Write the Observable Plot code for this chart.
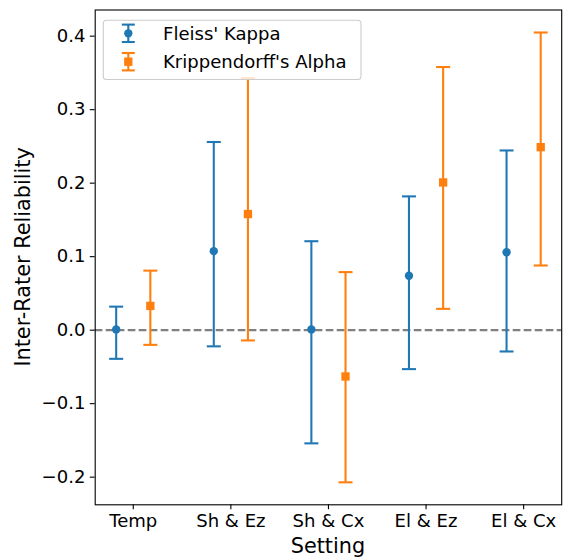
<!DOCTYPE html>
<html>
<head>
<meta charset="utf-8">
<script src="https://cdn.jsdelivr.net/npm/d3@7"></script>
<script src="https://cdn.jsdelivr.net/npm/@observablehq/plot@0.6"></script>
<style>
  html, body { margin: 0; padding: 0; background: #fff; }
  svg { font-family: "DejaVu Sans", sans-serif; }
</style>
</head>
<body>
<div id="chart"></div>
<script>
const categories = ["Temp", "Sh & Ez", "Sh & Cx", "El & Ez", "El & Cx"];
const seriesNames = ["Fleiss' Kappa", "Krippendorff's Alpha"];
const seriesColors = ["#1f77b4", "#ff7f0e"];

const fleiss   = [0.001, 0.1075, 0.001, 0.074, 0.106];
const fleissLo = [-0.039, -0.022, -0.154, -0.053, -0.029];
const fleissHi = [0.032, 0.256, 0.121, 0.182, 0.2445];

const kripp   = [0.033, 0.158, -0.063, 0.201, 0.249];
const krippLo = [-0.020, -0.014, -0.207, 0.029, 0.088];
const krippHi = [0.081, 0.343, 0.079, 0.358, 0.405];

const yTicks = [-0.2, -0.1, 0.0, 0.1, 0.2, 0.3, 0.4];

const offset = 0.175;
const rows = categories.flatMap((c, i) => [
  {s: seriesNames[0], x: i - offset, m: fleiss[i], lo: fleissLo[i], hi: fleissHi[i]},
  {s: seriesNames[1], x: i + offset, m: kripp[i], lo: krippLo[i], hi: krippHi[i]}
]);

const capSymbol = {
  draw(ctx, size) {
    const r = Math.sqrt(size / Math.PI);
    ctx.moveTo(-r, 0);
    ctx.lineTo(r, 0);
  }
};

const W = 563, H = 557;
const mL = 94.7, mR = 1.8, mT = 9.5, mB = 52.7;
const lw = 2.08;
const fs = 18.06;

const plot = Plot.plot({
  width: W,
  height: H,
  marginLeft: mL,
  marginRight: mR,
  marginTop: mT,
  marginBottom: mB,
  style: {fontFamily: "DejaVu Sans, sans-serif", fontSize: fs + "px", color: "black", background: "white"},
  x: {type: "linear", domain: [-0.39, 4.39]},
  y: {domain: [-0.2376, 0.4356]},
  color: {domain: seriesNames, range: seriesColors},
  marks: [
    Plot.ruleY([0], {stroke: "gray", strokeWidth: lw, strokeDasharray: "7.7,3.3"}),
    Plot.ruleX(rows, {x: "x", y1: "lo", y2: "hi", stroke: "s", strokeWidth: lw}),
    Plot.dot(rows, {x: "x", y: "lo", symbol: capSymbol, r: 7, stroke: "s", fill: "none", strokeWidth: lw}),
    Plot.dot(rows, {x: "x", y: "hi", symbol: capSymbol, r: 7, stroke: "s", fill: "none", strokeWidth: lw}),
    Plot.dot(rows.filter(d => d.s === seriesNames[0]), {x: "x", y: "m", symbol: "circle", r: 4.17, fill: "s", stroke: "none"}),
    Plot.dot(rows.filter(d => d.s === seriesNames[1]), {x: "x", y: "m", symbol: "square", r: 4.7, fill: "s", stroke: "none"}),
    Plot.axisX({ticks: d3.range(categories.length), tickFormat: i => categories[i], tickSize: 4.9, tickPadding: 4.9, strokeWidth: 1.1, label: null, fontSize: fs}),
    Plot.axisY({ticks: yTicks, tickFormat: d3.format(".1f"), tickSize: 4.9, tickPadding: 4.9, strokeWidth: 1.1, label: null, fontSize: fs}),
    Plot.frame({stroke: "black", strokeWidth: 1.1})
  ]
});

document.getElementById("chart").appendChild(plot);

const svg = d3.select(plot);
// Axis labels
svg.append("text")
  .attr("x", (mL + (W - mR)) / 2)
  .attr("y", 553)
  .attr("text-anchor", "middle")
  .attr("font-size", 20.8)
  .attr("fill", "black")
  .text("Setting");

svg.append("text")
  .attr("transform", `translate(30,${(mT + (H - mB)) / 2}) rotate(-90)`)
  .attr("text-anchor", "middle")
  .attr("font-size", 20.8)
  .attr("fill", "black")
  .text("Inter-Rater Reliability");

// Legend
const lg = svg.append("g");
lg.append("rect")
  .attr("x", 103.3).attr("y", 20.3)
  .attr("width", 361 - 103.3).attr("height", 79.5 - 20.3)
  .attr("rx", 3.3)
  .attr("fill", "white").attr("fill-opacity", 0.8)
  .attr("stroke", "#cccccc").attr("stroke-width", 1.1);

const rowsY = [33.3, 61.7];
const hx = 128.3;
seriesNames.forEach((name, k) => {
  const cy = rowsY[k];
  const col = seriesColors[k];
  lg.append("line").attr("x1", hx).attr("x2", hx).attr("y1", cy - 8.7).attr("y2", cy + 8.7)
    .attr("stroke", col).attr("stroke-width", lw);
  [cy - 8.7, cy + 8.7].forEach(yy => {
    lg.append("line").attr("x1", hx - 6.5).attr("x2", hx + 6.5).attr("y1", yy).attr("y2", yy)
      .attr("stroke", col).attr("stroke-width", lw);
  });
  if (k === 0) {
    lg.append("circle").attr("cx", hx).attr("cy", cy).attr("r", 4.17).attr("fill", col);
  } else {
    lg.append("rect").attr("x", hx - 4.17).attr("y", cy - 4.17).attr("width", 8.33).attr("height", 8.33).attr("fill", col);
  }
  lg.append("text").attr("x", 163).attr("y", cy).attr("dy", "0.36em")
    .attr("text-anchor", "start")
    .attr("font-size", fs).attr("fill", "black").text(name);
});
</script>
</body>
</html>
